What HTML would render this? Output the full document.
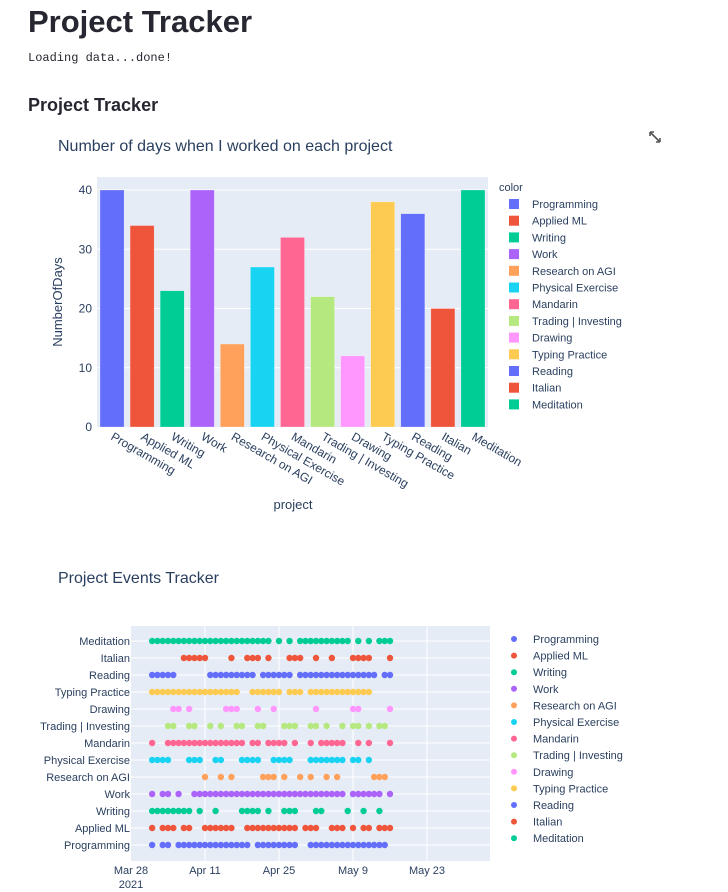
<!DOCTYPE html>
<html><head><meta charset="utf-8">
<style>
body{margin:0;background:#fff;width:728px;height:892px;overflow:hidden;font-family:"Liberation Sans",sans-serif;}
svg{position:absolute;left:0;top:0}
.t{fill:#2a3f5f;font-family:"Liberation Sans",sans-serif}
</style></head><body>
<svg id="s" width="728" height="892">
<text x="28" y="32" font-size="31" font-weight="bold" fill="#262730">Project Tracker</text>
<text x="28" y="61" font-size="12" font-family="Liberation Mono,monospace" fill="#262730">Loading data...done!</text>
<text x="28" y="111" font-size="18" font-weight="bold" fill="#262730">Project Tracker</text>
<text class="t" x="58" y="151" font-size="16">Number of days when I worked on each project</text>
<g stroke="#555" stroke-width="1.6" fill="none">
<path d="M650 132 l10 10 M650 132 h4 M650 132 v4 M660 142 h-4 M660 142 v-4"/></g>
<text class="t" x="58" y="583" font-size="16">Project Events Tracker</text>
<g id="bar"></g><g id="sc"></g>
</svg>
<script>
const NS="http://www.w3.org/2000/svg";
function mk(p,tag,a,txt){const e=document.createElementNS(NS,tag);for(const k in a)e.setAttribute(k,a[k]);if(txt!==undefined)e.textContent=txt;p.appendChild(e);return e;}
const projects=["Programming","Applied ML","Writing","Work","Research on AGI","Physical Exercise","Mandarin","Trading | Investing","Drawing","Typing Practice","Reading","Italian","Meditation"];
const colors=["#636efa","#EF553B","#00cc96","#ab63fa","#FFA15A","#19d3f3","#FF6692","#B6E880","#FF97FF","#FECB52","#636efa","#EF553B","#00cc96"];
const dayCounts=[40,34,23,40,14,27,32,22,12,38,36,20,40];
const yTicks=[0,10,20,30,40];
// days since Mar 28 2021
const ev_Programming=[4,6,7,9,10,11,12,13,14,15,16,17,18,19,20,21,22,24,25,26,27,28,29,30,31,34,35,36,37,38,39,40,41,42,43,44,45,46,47,48];
const ev_AppliedML=[4,6,7,8,10,11,14,15,16,17,18,19,22,23,24,25,26,27,28,29,30,31,33,34,35,38,39,40,42,44,45,47,48,49];
const ev_Writing=[4,5,6,7,8,9,10,11,13,16,21,22,23,24,26,29,30,31,35,36,41,44,47];
const ev_Work=[4,6,7,9,12,13,14,15,16,17,18,19,20,21,22,23,24,25,26,27,28,29,30,31,32,33,34,35,36,37,38,39,40,42,43,44,45,46,47,49];
const ev_Research=[14,17,19,25,26,27,29,32,34,37,39,46,47,48];
const ev_Physical=[4,5,6,7,11,12,13,16,17,21,22,23,24,27,28,29,30,34,35,36,37,38,39,40,42,43,45];
const ev_Mandarin=[4,7,8,9,10,11,12,13,14,15,16,17,18,19,20,21,23,24,26,27,28,29,31,34,36,37,38,39,40,43,45,49];
const ev_Trading=[7,8,11,12,15,17,20,21,24,25,29,30,31,34,35,37,40,42,43,45,47,48];
const ev_Drawing=[8,9,11,18,19,20,24,27,35,42,43,49];
const ev_Typing=[4,5,6,7,8,9,10,11,12,13,14,15,16,17,18,19,20,23,24,25,26,27,28,30,31,32,34,35,36,37,38,39,40,41,42,43,44,45];
const ev_Reading=[4,5,6,7,8,15,16,17,18,19,20,21,22,23,25,26,27,28,29,30,32,33,34,35,36,37,38,39,40,41,42,43,44,45,46,48,49];
const ev_Italian=[10,11,12,13,14,19,22,23,24,26,30,31,32,35,38,42,43,44,45,49];
const ev_Meditation=[4,5,6,7,8,9,10,11,12,13,14,15,16,17,18,19,20,21,22,23,24,25,26,28,30,32,33,34,35,36,37,38,39,40,41,43,45,47,48,49];
const events=[ev_Programming,ev_AppliedML,ev_Writing,ev_Work,ev_Research,ev_Physical,ev_Mandarin,ev_Trading,ev_Drawing,ev_Typing,ev_Reading,ev_Italian,ev_Meditation];
const xTickDays=[0,14,28,42,56];
const xTickLabels=["Mar 28","Apr 11","Apr 25","May 9","May 23"];

// ---- bar chart
const B=document.getElementById('bar');
const bx0=97,bx1=488,by0=427,by1=190,bTop=177;
const bandW=(bx1-bx0)/projects.length;
const yS=v=>by0-(v/40)*(by0-by1);
const bg=mk(B,'rect',{x:bx0,y:bTop,width:bx1-bx0,height:by0-bTop,fill:'#e5ecf6'});

yTicks.forEach(v=>{
 if(v>0){const g=mk(B,'line',{x1:bx0,x2:bx1,y1:yS(v),y2:yS(v),stroke:'#fff','stroke-width':1});}
 const t=mk(B,'text',{x:bx0-5,y:yS(v)+4,'text-anchor':'end','font-size':12,class:'t'},v);
 
});
projects.forEach((p,i)=>{
 const x=bx0+bandW*i+bandW*0.1,w=bandW*0.8;
 const r=mk(B,'rect',{x:x,y:yS(dayCounts[i]),width:w,height:by0-yS(dayCounts[i]),fill:colors[i],stroke:'rgba(255,255,255,0.5)','stroke-width':0.5});
 
 const cx=bx0+bandW*(i+0.5);
 const t=mk(B,'text',{x:0,y:0,'font-size':12,class:'t',transform:`translate(${cx-2},${by0+12}) rotate(30)`},p);
 
});
let e=mk(B,'text',{x:0,y:0,'font-size':13,class:'t','text-anchor':'middle',transform:`translate(62,${(by0+bTop)/2}) rotate(-90)`},'NumberOfDays');

e=mk(B,'text',{x:293,y:509,'font-size':13,class:'t','text-anchor':'middle'},'project');

e=mk(B,'text',{x:499,y:191,'font-size':11,class:'t'},'color');

projects.forEach((p,i)=>{
 const y=204+i*16.7;
 const g=mk(B,'g',{});
 
 mk(g,'rect',{x:509,y:y-5,width:10,height:10,fill:colors[i]});
 mk(g,'text',{x:532,y:y+4,'font-size':11,class:'t'},p);
});

// ---- scatter
const S=document.getElementById('sc');
const sx0=131,sx1=490,sTop=626,sBot=861;
const dayPx=(427-131)/56;
const xS=d=>sx0+d*dayPx;
const rowY=i=>845-i*17;
e=mk(S,'rect',{x:sx0,y:sTop,width:sx1-sx0,height:sBot-sTop,fill:'#e5ecf6'});

xTickDays.forEach((d,k)=>{
 if(d>0){const g=mk(S,'line',{x1:xS(d),x2:xS(d),y1:sTop,y2:sBot,stroke:'#fff','stroke-width':1});}
 const t=mk(S,'text',{x:xS(d),y:874,'text-anchor':'middle','font-size':11,class:'t'},xTickLabels[k]);
 
});
e=mk(S,'text',{x:xS(0),y:888,'text-anchor':'middle','font-size':11,class:'t'},'2021');

projects.forEach((p,i)=>{
 const g=mk(S,'line',{x1:sx0,x2:sx1,y1:rowY(i),y2:rowY(i),stroke:'#fff','stroke-width':1});
 
 const t=mk(S,'text',{x:sx0-1,y:rowY(i)+4,'text-anchor':'end','font-size':11,class:'t'},p);
 
});
events.forEach((arr,i)=>{
 arr.forEach(d=>{
  const c=mk(S,'circle',{cx:xS(d),cy:rowY(i),r:3.2,fill:colors[i]});
  
  
 });
});
projects.forEach((p,i)=>{
 const y=639+i*16.6;
 const g=mk(S,'g',{});
 
 mk(g,'circle',{cx:514,cy:y,r:3,fill:colors[i]});
 mk(g,'text',{x:533,y:y+4,'font-size':11,class:'t'},p);
});
</script>
</body></html>
